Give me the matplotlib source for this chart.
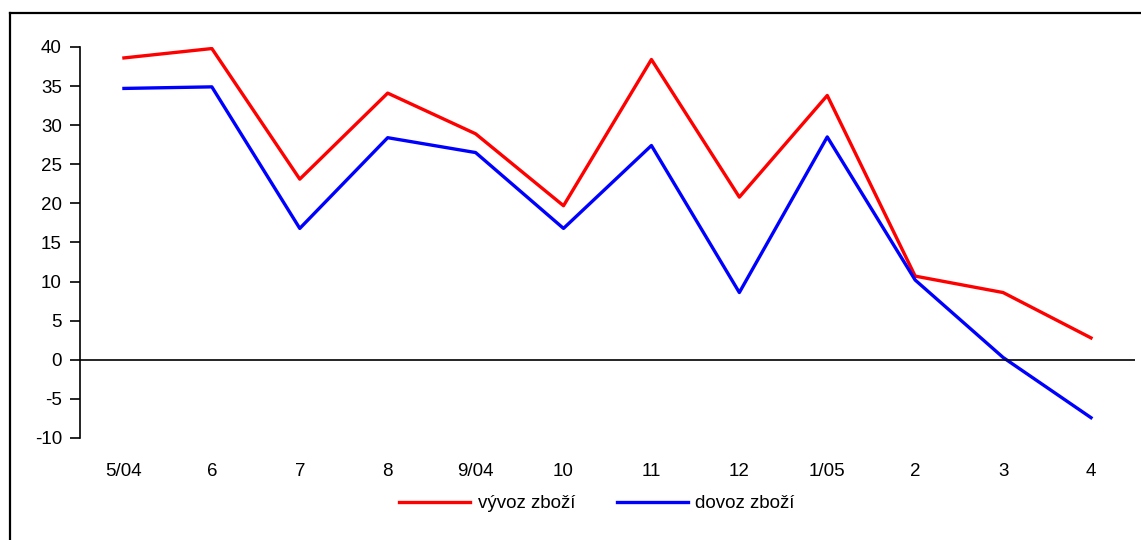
import matplotlib.pyplot as plt
from matplotlib.lines import Line2D

# months (5/2004 - 4/2005)
months = ['5/04', '6', '7', '8', '9/04', '10', '11', '12', '1/05', '2', '3', '4']
vyvoz = [38.6, 39.8, 23.1, 34.1, 28.9, 19.7, 38.4, 20.8, 33.8, 10.7, 8.6, 2.8]
dovoz = [34.7, 34.9, 16.8, 28.4, 26.5, 16.8, 27.4, 8.6, 28.5, 10.2, 0.3, -7.4]

plt.rcParams['font.family'] = ['Liberation Sans', 'DejaVu Sans']
plt.rcParams['axes.unicode_minus'] = False

fig = plt.figure(figsize=(11.41, 5.4), dpi=100)
ax = fig.add_axes([0.0701, 0.1889, 0.9246, 0.7241])

x = range(len(months))
ax.plot(x, vyvoz, color='#ff0000', lw=2.4, label='vývoz zboží')
ax.plot(x, dovoz, color='#0000ff', lw=2.4, label='dovoz zboží')
ax.axhline(0, color='black', lw=1.2)

ax.set_xlim(-0.5, 11.5)
ax.set_ylim(-10, 40)
ax.set_yticks(range(-10, 41, 5))
ax.set_xticks(list(x))
ax.set_xticklabels(months)
ax.tick_params(axis='x', length=0, pad=18, labelsize=13.5)
ax.tick_params(axis='y', length=7, width=1.2, pad=6, labelsize=13.5)
for s in ['top', 'right', 'bottom']:
    ax.spines[s].set_visible(False)
ax.spines['left'].set_linewidth(1.2)

ax.legend(loc='center', bbox_to_anchor=(0.49, -0.168), ncol=2, frameon=False,
          fontsize=13.5, handlelength=3.8, handletextpad=0.4, columnspacing=2.2)

# outer frame (left and top edges visible)
fig.add_artist(Line2D([0.0088, 0.0088], [0, 0.976], color='black', lw=1.6, transform=fig.transFigure))
fig.add_artist(Line2D([0.0088, 1.0], [0.976, 0.976], color='black', lw=1.6, transform=fig.transFigure))

fig.savefig('out.png', dpi=100)
